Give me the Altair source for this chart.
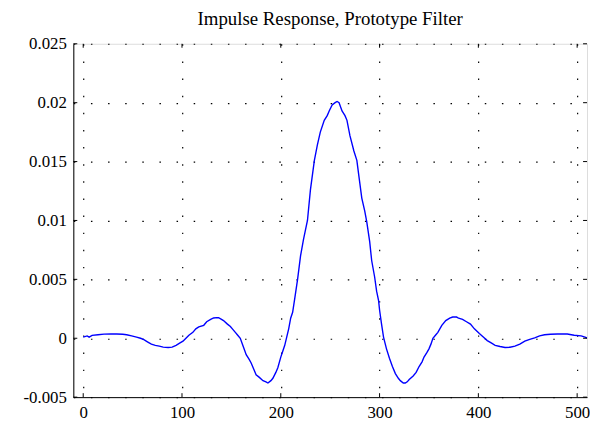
import altair as alt
import pandas as pd

# sample index of the prototype filter impulse response
n_vals = [0, 4, 6, 9, 15, 21, 28, 34, 40, 44, 49, 54, 58, 61, 65, 69, 73, 77, 81, 86,
          90, 94, 98, 101, 104, 107, 111, 114, 117, 122, 125, 129, 132, 135, 137, 140,
          142, 146, 149, 151, 154, 156, 159, 162, 165, 168, 170, 173, 175, 178, 182,
          185, 187, 190, 192, 195, 197, 200, 202, 204, 206, 208, 210, 212, 214, 217,
          220, 223, 227, 230, 234, 237, 240, 244, 247, 249, 252, 255, 257, 259, 262,
          265, 267, 270, 274, 277, 279, 282, 285, 287, 290, 292, 295, 297, 299, 300,
          302, 304, 307, 310, 313, 316, 319, 321, 324, 326, 328, 330, 334, 337, 340,
          343, 345, 348, 350, 352, 354, 357, 359, 363, 367, 371, 374, 376, 378, 380,
          384, 388, 392, 396, 401, 405, 409, 413, 417, 422, 427, 432, 437, 442, 447,
          452, 457, 462, 467, 473, 480, 490, 497, 504, 508, 511]

h_vals = [0.0001, 0.0002, 0.0001, 0.00025, 0.0003, 0.00035, 0.00036, 0.00036, 0.00034,
          0.0003, 0.0002, 0.0001, 0.0, -0.0001, -0.0003, -0.0005, -0.0006, -0.00067,
          -0.00075, -0.00079, -0.00075, -0.0006, -0.0004, -0.00025, 0.0, 0.00025,
          0.0005, 0.0008, 0.00096, 0.0011, 0.0014, 0.0016, 0.00172, 0.00175, 0.00174,
          0.0016, 0.0015, 0.0012, 0.001, 0.0008, 0.0005, 0.0003, 0.0, -0.0007, -0.0014,
          -0.0018, -0.0021, -0.0027, -0.0031, -0.0033, -0.0036, -0.0037, -0.0038,
          -0.0036, -0.0034, -0.0029, -0.0025, -0.0016, -0.0011, -0.0006, 0.0001,
          0.0008, 0.0017, 0.0022, 0.0033, 0.005, 0.007, 0.0084, 0.01, 0.0126, 0.0151,
          0.0164, 0.0175, 0.0185, 0.0189, 0.0193, 0.0198, 0.02, 0.0201, 0.02, 0.0193,
          0.0189, 0.0185, 0.0172, 0.0159, 0.0151, 0.0138, 0.0119, 0.0108, 0.0099,
          0.0082, 0.0066, 0.0052, 0.004, 0.0032, 0.0024, 0.0012, 0.0001, -0.0009,
          -0.0017, -0.0024, -0.003, -0.0034, -0.0036, -0.0038, -0.0038, -0.0037,
          -0.0035, -0.0032, -0.0029, -0.0024, -0.002, -0.0016, -0.0012, -0.0009,
          -0.0005, 0.0, 0.0003, 0.0005, 0.0011, 0.0015, 0.0017, 0.0018, 0.0018, 0.0018,
          0.0017, 0.0016, 0.0014, 0.0012, 0.0008, 0.0004, 0.0001, -0.0002, -0.0004,
          -0.0006, -0.0007, -0.00078, -0.00076, -0.00067, -0.0005, -0.00025, -0.0001,
          0.00003, 0.0002, 0.0003, 0.00034, 0.00036, 0.00036, 0.00025, 0.0002, 0.0001,
          0.0]

x_ticks = [0, 100, 200, 300, 400, 500]
y_ticks = [-0.005, 0, 0.005, 0.01, 0.015, 0.02, 0.025]
title_text = "Impulse Response, Prototype Filter"

W, H = 519, 357
FONT = "Liberation Serif"

df = pd.DataFrame({"n": n_vals, "h": h_vals})
xdf = pd.DataFrame({"t": x_ticks})
ydf = pd.DataFrame({"t": y_ticks})

xscale = alt.Scale(domain=[-10, 510], nice=False, zero=False)
yscale = alt.Scale(domain=[-0.005, 0.025], nice=False, zero=False)

grid_dash = [1.5, 15.8]

line = alt.Chart(df).mark_line(color="#0000ff", strokeWidth=1.4, clip=True).encode(
    x=alt.X("n:Q", scale=xscale, title=None,
            axis=alt.Axis(values=x_ticks, grid=True, gridColor="#000000", gridOpacity=1,
                          gridDash=grid_dash, gridWidth=1.2, ticks=False,
                          domain=True, domainColor="#000000", labelFont=FONT,
                          labelFontSize=17, labelColor="#000000", labelPadding=8,
                          format="d")),
    y=alt.Y("h:Q", scale=yscale, title=None,
            axis=alt.Axis(values=y_ticks, grid=True, gridColor="#000000", gridOpacity=1,
                          gridDash=grid_dash, gridWidth=1.2, ticks=False,
                          domain=True, domainColor="#000000", labelFont=FONT,
                          labelFontSize=17, labelColor="#000000", labelPadding=7,
                          labelExpr="datum.value < 0 ? '-' + format(-datum.value, '~g') : format(datum.value, '~g')")),
)

tick_len = 4
xt_bottom = alt.Chart(xdf).mark_rule(color="#000000", strokeWidth=1).encode(
    x=alt.X("t:Q", scale=xscale), y=alt.value(H), y2=alt.value(H - tick_len))
xt_top = alt.Chart(xdf).mark_rule(color="#000000", strokeWidth=1).encode(
    x=alt.X("t:Q", scale=xscale), y=alt.value(0), y2=alt.value(tick_len))
yt_left = alt.Chart(ydf).mark_rule(color="#000000", strokeWidth=1).encode(
    y=alt.Y("t:Q", scale=yscale), x=alt.value(0), x2=alt.value(tick_len))
yt_right = alt.Chart(ydf).mark_rule(color="#000000", strokeWidth=1).encode(
    y=alt.Y("t:Q", scale=yscale), x=alt.value(W), x2=alt.value(W - tick_len))

chart = alt.layer(line, xt_bottom, xt_top, yt_left, yt_right).properties(
    width=W, height=H,
    title=alt.TitleParams(title_text, font=FONT, fontSize=19, fontWeight="normal",
                          color="#000000", anchor="middle", offset=6),
    padding={"left": 66, "top": 34, "right": 3, "bottom": 27},
    autosize=alt.AutoSizeParams(type="none"),
).configure_view(stroke="#000000", strokeWidth=1.2).configure(background="white")

chart.save("out.html", embed_options={"renderer": "svg", "actions": False})
